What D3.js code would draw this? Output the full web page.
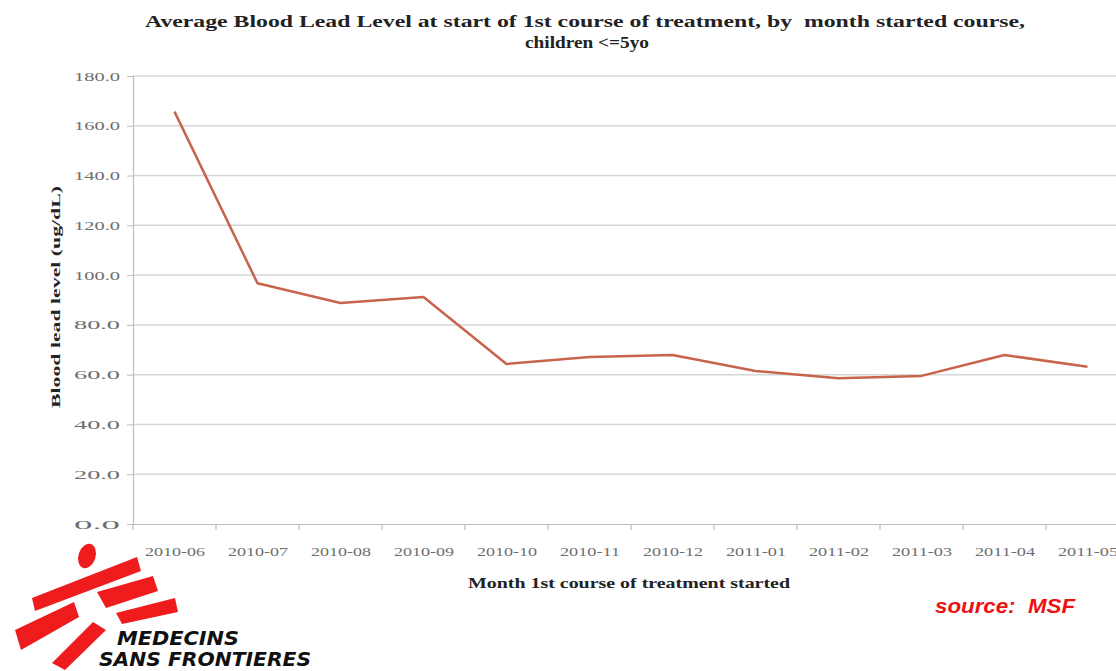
<!DOCTYPE html>
<html>
<head>
<meta charset="utf-8">
<script src="https://cdn.jsdelivr.net/npm/d3@7"></script>
<style>
  html, body { margin: 0; padding: 0; background: #fff; }
  svg { display: block; }
  text { white-space: pre; }
</style>
</head>
<body>
<svg id="chart" width="1116" height="671"></svg>
<script>
const months = ["2010-06","2010-07","2010-08","2010-09","2010-10","2010-11","2010-12","2011-01","2011-02","2011-03","2011-04","2011-05"];
const leadLevel = [165.7, 96.7, 88.8, 91.2, 64.3, 67.1, 67.9, 61.5, 58.6, 59.5, 67.9, 63.2];
const yTicks = [0, 20, 40, 60, 80, 100, 120, 140, 160, 180];
const titleLines = ["Average Blood Lead Level at start of 1st course of treatment, by  month started course,", "children <=5yo"];
const yTitle = "Blood lead level (ug/dL)";
const xTitle = "Month 1st course of treatment started";
const sourceText = "source:  MSF";

(function () {
const svg = d3.select("#chart");
const plotL = 133, plotR = 1129, plotT = 76, plotB = 524;

const x = d3.scalePoint().domain(months).range([plotL, plotR]).padding(0.5);
const xBand = d3.scaleBand().domain(months).range([plotL, plotR]);
const y = d3.scaleLinear().domain([0, 180]).range([plotB, plotT]);

const serif = "'Liberation Serif', 'DejaVu Serif', serif";

// gridlines
svg.append("g").selectAll("line").data(yTicks.filter(d => d > 0)).join("line")
  .attr("x1", plotL).attr("x2", plotR)
  .attr("y1", d => y(d)).attr("y2", d => y(d))
  .attr("stroke", "#d6d6d6").attr("stroke-width", 1.5);

// y axis
const yAxis = svg.append("g").attr("transform", `translate(${plotL},0)`)
  .call(d3.axisLeft(y).tickValues(yTicks).tickFormat(d3.format(".1f")).tickSize(6).tickPadding(7));
yAxis.select(".domain").attr("stroke", "#bdbdbd").attr("stroke-width", 1.2);
yAxis.selectAll(".tick line").attr("stroke", "#bdbdbd");
yAxis.selectAll(".tick text")
  .attr("font-family", serif).attr("font-size", 12.5).attr("fill", "#6e6e6e")
  .attr("textLength", 46).attr("lengthAdjust", "spacingAndGlyphs");

// x axis
const xAxis = svg.append("g").attr("transform", `translate(0,${plotB})`)
  .call(d3.axisBottom(x).tickSize(0).tickPadding(23));
xAxis.select(".domain").attr("stroke", "#bdbdbd").attr("stroke-width", 1.2);
xAxis.selectAll(".tick text")
  .attr("font-family", serif).attr("font-size", 12.5).attr("fill", "#6e6e6e")
  .attr("textLength", 60).attr("lengthAdjust", "spacingAndGlyphs");
// category boundary ticks
svg.append("g").selectAll("line").data(months).join("line")
  .attr("x1", d => xBand(d)).attr("x2", d => xBand(d))
  .attr("y1", plotB).attr("y2", plotB + 6)
  .attr("stroke", "#bdbdbd").attr("stroke-width", 1.2);

// line
const line = d3.line().x((d, i) => x(months[i])).y(d => y(d));
svg.append("path").datum(leadLevel)
  .attr("d", line)
  .attr("fill", "none").attr("stroke", "#c8634c").attr("stroke-width", 2.5)
  .attr("stroke-linejoin", "round");

// title
svg.append("text").attr("x", 585).attr("y", 27).attr("text-anchor", "middle")
  .attr("font-family", serif).attr("font-weight", "bold").attr("font-size", 16.5).attr("fill", "#222")
  .attr("textLength", 880).attr("lengthAdjust", "spacingAndGlyphs").text(titleLines[0]);
svg.append("text").attr("x", 587).attr("y", 48).attr("text-anchor", "middle")
  .attr("font-family", serif).attr("font-weight", "bold").attr("font-size", 16.5).attr("fill", "#222")
  .attr("textLength", 124).attr("lengthAdjust", "spacingAndGlyphs").text(titleLines[1]);

// axis titles
svg.append("text").attr("transform", "translate(60,297) rotate(-90)").attr("text-anchor", "middle")
  .attr("font-family", serif).attr("font-weight", "bold").attr("font-size", 13).attr("fill", "#222")
  .attr("textLength", 222).attr("lengthAdjust", "spacingAndGlyphs").text(yTitle);
svg.append("text").attr("x", 629).attr("y", 588).attr("text-anchor", "middle")
  .attr("font-family", serif).attr("font-weight", "bold").attr("font-size", 14).attr("fill", "#222")
  .attr("textLength", 322).attr("lengthAdjust", "spacingAndGlyphs").text(xTitle);

// source
svg.append("text").attr("x", 935).attr("y", 613).attr("xml:space", "preserve")
  .attr("font-family", "'Liberation Sans', Arial, sans-serif").attr("font-weight", "bold").attr("font-style", "italic")
  .attr("font-size", 20).attr("fill", "#ee1111")
  .attr("textLength", 140).attr("lengthAdjust", "spacingAndGlyphs").text(sourceText);

// MSF logo (decorative)
const logo = svg.append("g");
const red = "#ee1c1c";
logo.append("ellipse").attr("cx", 87).attr("cy", 556).attr("rx", 8.5).attr("ry", 12.5)
  .attr("transform", "rotate(18,87,556)").attr("fill", red);
const shapes = [
  [[32,598],[137,557],[141,571],[35,611]],
  [[97,592],[153,576],[158,591],[106,608]],
  [[116,613],[175,598],[178,612],[122,624]],
  [[15,630],[74,602],[79,617],[21,650]],
  [[52,663],[93,622],[106,630],[65,670]]
];
logo.selectAll("polygon").data(shapes).join("polygon")
  .attr("points", d => d.map(p => p.join(",")).join(" ")).attr("fill", red);
logo.append("text").attr("x", 117).attr("y", 645)
  .attr("font-family", "'DejaVu Sans', Arial, sans-serif").attr("font-weight", "bold").attr("font-style", "italic")
  .attr("font-size", 19).attr("fill", "#111")
  .attr("textLength", 122).attr("lengthAdjust", "spacingAndGlyphs").text("MEDECINS");
logo.append("text").attr("x", 99).attr("y", 666)
  .attr("font-family", "'DejaVu Sans', Arial, sans-serif").attr("font-weight", "bold").attr("font-style", "italic")
  .attr("font-size", 19).attr("fill", "#111")
  .attr("textLength", 212).attr("lengthAdjust", "spacingAndGlyphs").text("SANS FRONTIERES");
})();
</script>
</body>
</html>
